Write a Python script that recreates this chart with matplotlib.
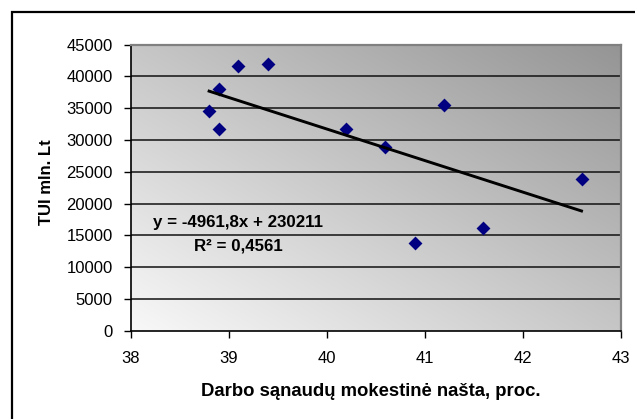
import matplotlib
matplotlib.use("Agg")
import matplotlib.pyplot as plt
from matplotlib.colors import LinearSegmentedColormap
from matplotlib.patches import Rectangle
import numpy as np

# darbo sanaudu mokestine nasta (proc.) vs TUI (mln. Lt)
nasta = [38.8, 38.9, 38.9, 39.1, 39.4, 40.2, 40.6, 40.9, 41.2, 41.6, 42.6]
tui = [34500, 38000, 31700, 41650, 41950, 31700, 28900, 13800, 35500, 16150, 23850]

# trend line as printed on the chart
slope = -4961.8
intercept = 230211
r2 = 0.4561

xticks = [38, 39, 40, 41, 42, 43]
yticks = list(range(0, 45001, 5000))

plt.rcParams['font.family'] = ['Liberation Sans', 'DejaVu Sans']

fig = plt.figure(figsize=(6.35, 4.19), dpi=100)
ax = fig.add_axes([130.7/635, 1 - 330.7/419, 490/635, 286/419])

# diagonal gradient background, light bottom-left -> dark top-right
u, v = np.meshgrid(np.linspace(0, 1, 200), np.linspace(0, 1, 200))
grad = (u + v) / 2
cmap = LinearSegmentedColormap.from_list('bg', ['#f8f8f8', '#959595'])
ax.imshow(grad, extent=[38, 43, 0, 45000], origin='lower', aspect='auto',
          cmap=cmap, zorder=0, interpolation='bilinear')

for yv in yticks[1:]:
    ax.axhline(yv, color='#111111', lw=1.1, zorder=1)

ax.scatter(nasta, tui, marker='D', s=50, color='#000080', zorder=3, linewidths=0)

xl = np.array([min(nasta), max(nasta)])
ax.plot(xl, slope * xl + intercept, color='black', lw=2.1, zorder=4)

ax.text(39.1, 16990, f"y = {slope:.1f}x + {intercept}".replace('.', ','),
        ha='center', va='center', fontsize=12.2, fontweight='bold', zorder=5)
ax.text(39.1, 13330, f"R² = {r2}".replace('.', ','),
        ha='center', va='center', fontsize=12.2, fontweight='bold', zorder=5)

ax.set_xlim(38, 43)
ax.set_ylim(0, 45000)
ax.set_xticks(xticks)
ax.set_yticks(yticks)
ax.tick_params(direction='out', length=5, width=1, labelsize=12, color='black')
ax.tick_params(axis='y', pad=8)
ax.tick_params(axis='x', pad=9.5)

for s in ['left', 'bottom']:
    ax.spines[s].set_color('black')
    ax.spines[s].set_linewidth(1.2)
for s in ['top', 'right']:
    ax.spines[s].set_color('#808080')
    ax.spines[s].set_linewidth(1.6)

ax.set_xlabel('Darbo sąnaudų mokestinė našta, proc.', fontsize=13.3,
              fontweight='bold', va='center')
ax.xaxis.set_label_coords(0.49, -0.214)
ax.set_ylabel('TUI mln. Lt', fontsize=12, fontweight='bold', va='center')
ax.yaxis.set_label_coords(-0.171, 0.52)

# outer chart border (runs off the right and bottom of the picture)
fig.patches.append(Rectangle((12/635, -0.05), 1.0, 1 - 12/419 + 0.05,
                             transform=fig.transFigure, fill=False,
                             edgecolor='black', lw=1.6))

fig.savefig('out.png', dpi=100)
